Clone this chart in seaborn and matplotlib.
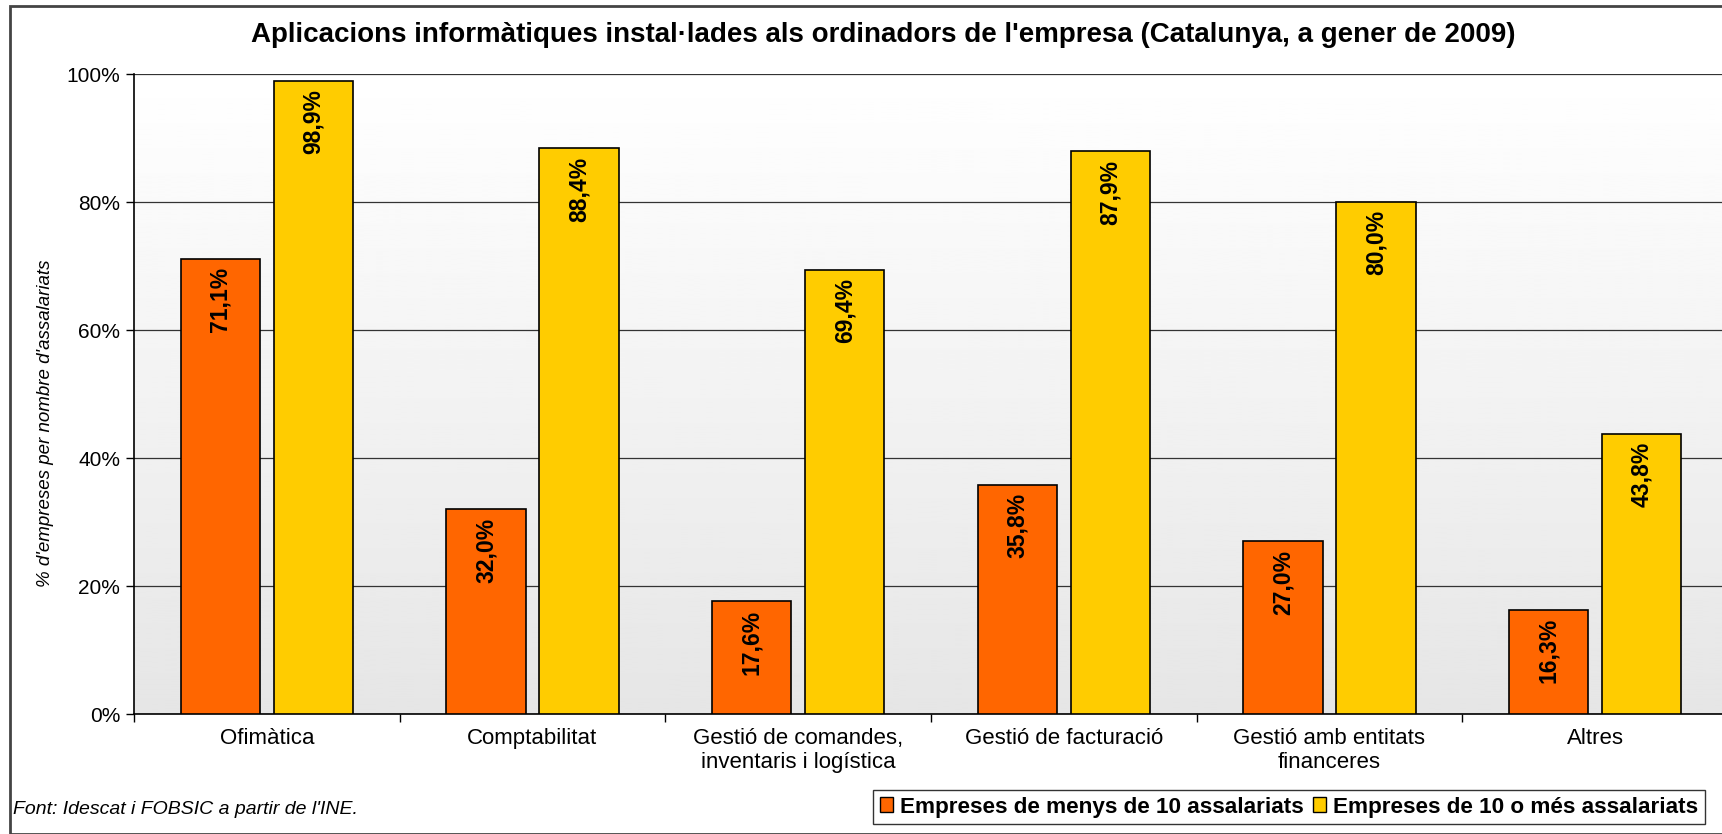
import matplotlib
matplotlib.use("Agg")
import matplotlib.pyplot as plt
import seaborn as sns
import numpy as np
import pandas as pd
from matplotlib.patches import Patch, Rectangle
from matplotlib.ticker import FixedLocator, FuncFormatter

# Dades
categories = ["Ofimàtica", "Comptabilitat", "Gestió de comandes,\ninventaris i logística",
              "Gestió de facturació", "Gestió amb entitats\nfinanceres", "Altres"]
series = ["Empreses de menys de 10 assalariats", "Empreses de 10 o més assalariats"]
menys_10 = [71.1, 32.0, 17.6, 35.8, 27.0, 16.3]
mes_10 = [98.9, 88.4, 69.4, 87.9, 80.0, 43.8]
colors = ["#FF6600", "#FFCC00"]

df = pd.DataFrame({
    "categoria": categories * 2,
    "serie": [series[0]] * len(categories) + [series[1]] * len(categories),
    "valor": menys_10 + mes_10,
})

sns.set_theme(style="white")
plt.rcParams["font.family"] = ["Liberation Sans", "DejaVu Sans"]
plt.rcParams.update({"text.color": "black", "axes.labelcolor": "black",
                     "xtick.color": "black", "ytick.color": "black"})

fig = plt.figure(figsize=(17.22, 8.34), dpi=100)
ax = fig.add_axes([134 / 1722, 120 / 834, 1594 / 1722, 640 / 834])

# fons degradat
grad = np.linspace(0.90, 1.0, 256).reshape(-1, 1)
ax.imshow(grad, extent=[0, 1, 0, 1], transform=ax.transAxes, aspect="auto",
          cmap="gray", vmin=0, vmax=1, origin="lower", zorder=0)

sns.barplot(data=df, x="categoria", y="valor", hue="serie", palette=colors, saturation=1,
            width=0.7, gap=0.15, edgecolor="black", linewidth=1.2,
            order=categories, hue_order=series, ax=ax, zorder=3, legend=False)

ax.set_xlim(-0.5, len(categories) - 0.5)
ax.set_ylim(0, 100)
ax.set_yticks([0, 20, 40, 60, 80, 100])
ax.yaxis.set_major_formatter(FuncFormatter(lambda v, p: f"{int(v)}%"))
ax.grid(axis="y", color="#333333", linewidth=0.9, zorder=1)
ax.set_axisbelow(True)

for cont in ax.containers:
    for bar in cont:
        h = bar.get_height()
        ax.annotate(f"{h:.1f}%".replace(".", ","),
                    (bar.get_x() + bar.get_width() / 2, h),
                    xytext=(0, -6), textcoords="offset points",
                    rotation=90, ha="center", va="top", color="black",
                    fontsize=16.5, fontweight="bold", zorder=5)

for s in ["top", "right"]:
    ax.spines[s].set_visible(False)
ax.spines["left"].set_color("black")
ax.spines["bottom"].set_color("black")
ax.spines["left"].set_linewidth(1.2)
ax.spines["bottom"].set_linewidth(1.2)

ax.set_xlabel("")
ax.set_ylabel("% d'empreses per nombre d'assalariats", fontsize=13.5, style="italic")
ax.yaxis.set_label_coords(-0.050, 0.455)
ax.tick_params(axis="y", labelsize=15, length=6, width=1, direction="out", left=True, pad=4)
ax.tick_params(axis="x", labelsize=16, length=0, pad=10)
ax.xaxis.set_minor_locator(FixedLocator(np.arange(-0.5, len(categories), 1.0)))
ax.tick_params(axis="x", which="minor", length=6, width=1, direction="out", bottom=True)

fig.text(0.513, 0.958, "Aplicacions informàtiques instal·lades als ordinadors de l'empresa (Catalunya, a gener de 2009)",
         ha="center", va="center", fontsize=20, fontweight="bold")
fig.text(13 / 1722, 1 - 809 / 834, "Font: Idescat i FOBSIC a partir de l'INE.",
         ha="left", va="center", fontsize=14, style="italic")

handles = [Patch(facecolor=c, edgecolor="black", linewidth=1) for c in colors]
leg = fig.legend(handles, series, loc="center right", bbox_to_anchor=(1716 / 1722, 1 - 807 / 834),
                 ncol=2, frameon=True, fancybox=False, edgecolor="black",
                 prop={"weight": "bold", "size": 16.2}, handlelength=0.6, handleheight=0.6,
                 handletextpad=0.3, columnspacing=0.4, borderpad=0.3)
leg.get_frame().set_linewidth(1)

fig.patches.append(Rectangle((10 / 1722, 0), 1.2, 1 - 6 / 834, transform=fig.transFigure,
                             fill=False, edgecolor="#444444", linewidth=2, zorder=0))

fig.savefig("out.png", dpi=100)
